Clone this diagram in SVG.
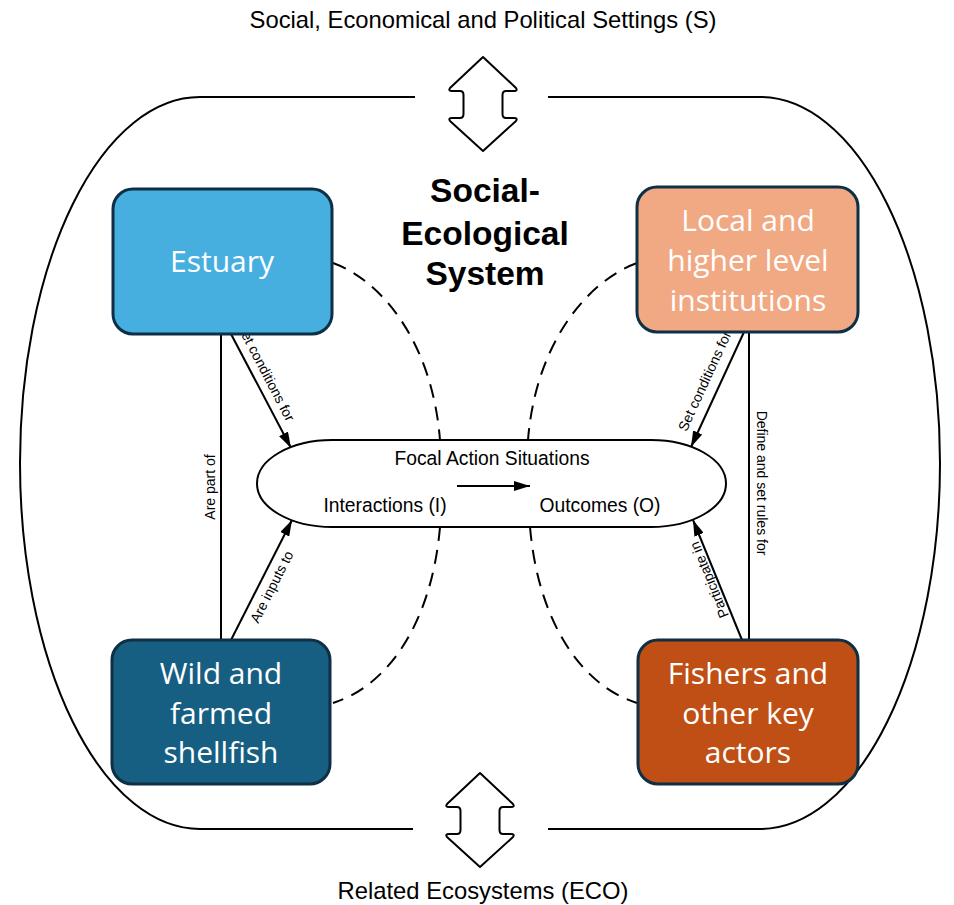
<svg xmlns="http://www.w3.org/2000/svg" xmlns:xlink="http://www.w3.org/1999/xlink" width="954" height="905" viewBox="0 0 954 905">
  <style>
    .sans { font-family: "Liberation Sans", Arial, sans-serif; fill: #000; }
    .title { font-family: "Liberation Sans", Arial, sans-serif; font-weight: bold; font-size: 33.5px; text-anchor: middle; fill: #000; }
    .edge-lbl { font-family: "Liberation Sans", Arial, sans-serif; font-size: 14px; text-anchor: middle; fill: #000; }
    .box rect { stroke: #0e2f44; stroke-width: 3; }
    .box text { font-family: "Open Sans", "Liberation Sans", sans-serif; font-size: 30px; fill: #fff; text-anchor: middle; }
    .line { stroke: #000; stroke-width: 2; fill: none; }
    .dash { stroke-dasharray: 14 9; }
    .dbl { fill: #fff; stroke: #000; stroke-width: 2; stroke-linejoin: round; }
  </style>
  <defs>
    <marker id="head" markerUnits="userSpaceOnUse" viewBox="0 0 16 10" refX="16" refY="5" markerWidth="16" markerHeight="10" orient="auto">
      <path d="M0,0 L16,5 L0,10 Z" fill="#000"/>
    </marker>
    <!-- double-headed block arrow, top tip at (0,0) -->
    <path id="dblArrow" class="dbl" d="M0,0 L33,31 Q35,34 31,34 L23,34 Q19.5,34 19.5,38 L19.5,57 Q19.5,61 23,61 L31,61 Q35,61 33,64 L0,94 L-33,64 Q-35,61 -31,61 L-23,61 Q-19.5,61 -19.5,57 L-19.5,38 Q-19.5,34 -23,34 L-31,34 Q-35,34 -33,31 Z"/>
  </defs>

  <rect width="954" height="905" fill="#fff"/>

  <!-- system boundary -->
  <g id="boundary">
    <path class="line" d="M415,97 L200,97 A180,366 0 0 0 200,829 L413,829"/>
    <path class="line" d="M548,97 L760,97 A180,366 0 0 1 760,829 L548,829"/>
    <use xlink:href="#dblArrow" x="483" y="57"/>
    <use xlink:href="#dblArrow" x="480" y="773"/>
  </g>

  <g id="settings">
    <text class="sans" x="483" y="28" font-size="23.8" text-anchor="middle">Social, Economical and Political Settings (S)</text>
  </g>
  <g id="ecosystems">
    <text class="sans" x="483" y="899" font-size="23.8" text-anchor="middle">Related Ecosystems (ECO)</text>
  </g>

  <g id="title">
    <text class="title" x="485" y="202">Social-</text>
    <text class="title" x="485" y="245">Ecological</text>
    <text class="title" x="485" y="285">System</text>
  </g>

  <!-- connectors -->
  <g id="connectors">
    <path class="line dash" d="M333,263 C380,280 432,340 440,440"/>
    <path class="line dash" d="M637,263 C590,280 536,340 528,440"/>
    <path class="line dash" d="M440,527 C432,620 390,685 333,703"/>
    <path class="line dash" d="M530,527 C538,620 580,685 637,703"/>

    <line class="line" x1="221" y1="334" x2="221" y2="640"/>
    <line class="line" x1="749" y1="332" x2="749" y2="640"/>

    <line class="line" x1="231" y1="334" x2="291" y2="448" marker-end="url(#head)"/>
    <line class="line" x1="231" y1="640" x2="292" y2="520" marker-end="url(#head)"/>
    <line class="line" x1="744" y1="332" x2="691" y2="447" marker-end="url(#head)"/>
    <line class="line" x1="742" y1="640" x2="693" y2="520" marker-end="url(#head)"/>

    <text class="edge-lbl" transform="translate(215,487) rotate(-90)">Are part of</text>
    <text class="edge-lbl" transform="translate(757,483) rotate(90)">Define and set rules for</text>
    <text class="edge-lbl" transform="translate(261.6,374.4) rotate(62.5)">Set conditions for</text>
    <text class="edge-lbl" transform="translate(276,589) rotate(-63)">Are inputs to</text>
    <text class="edge-lbl" transform="translate(709,383) rotate(-65.3)">Set conditions for</text>
    <text class="edge-lbl" transform="translate(713.6,578) rotate(-112.2)">Participate in</text>
  </g>

  <!-- focal action situations -->
  <g id="focal">
    <rect x="257" y="440" width="469" height="87" rx="75" ry="43.5" fill="#fff" stroke="#000" stroke-width="2"/>
    <text class="sans" x="492" y="465" font-size="19.3" text-anchor="middle">Focal Action Situations</text>
    <text class="sans" x="385" y="512" font-size="19.3" text-anchor="middle">Interactions (I)</text>
    <text class="sans" x="600" y="512" font-size="19.3" text-anchor="middle">Outcomes (O)</text>
    <line class="line" x1="457" y1="486" x2="530" y2="486" marker-end="url(#head)"/>
  </g>

  <g id="estuary" class="box">
    <rect x="113" y="189" width="219" height="145" rx="20" fill="#46afe0"/>
    <text x="222" y="272">Estuary</text>
  </g>

  <g id="institutions" class="box">
    <rect x="637" y="187" width="221" height="145" rx="20" fill="#f1a983"/>
    <text x="748" y="231">Local and</text>
    <text x="748" y="271">higher level</text>
    <text x="748" y="311">institutions</text>
  </g>

  <g id="shellfish" class="box">
    <rect x="112" y="640" width="218" height="144" rx="20" fill="#175f82"/>
    <text x="221" y="684">Wild and</text>
    <text x="221" y="724">farmed</text>
    <text x="221" y="763">shellfish</text>
  </g>

  <g id="fishers" class="box">
    <rect x="638" y="640" width="220" height="144" rx="20" fill="#c04f15"/>
    <text x="748" y="684">Fishers and</text>
    <text x="748" y="724">other key</text>
    <text x="748" y="763">actors</text>
  </g>
</svg>
